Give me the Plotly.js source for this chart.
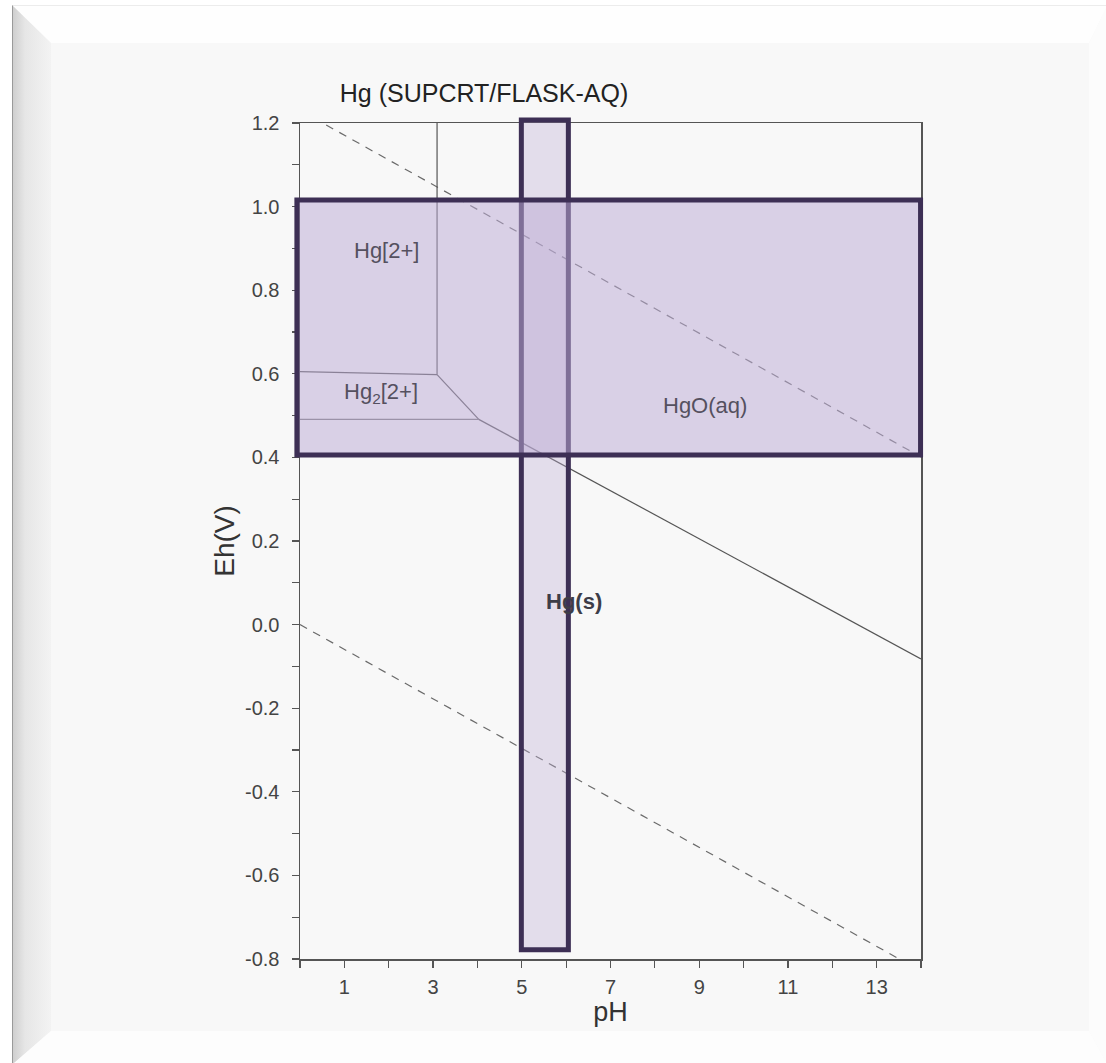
<!DOCTYPE html>
<html>
<head>
<meta charset="utf-8">
<script src="https://cdn.plot.ly/plotly-3.0.1.min.js"></script>
<style>
  html, body { margin: 0; padding: 0; background: #ffffff; width: 1106px; height: 1063px; overflow: hidden; }
  #frame { position: absolute; left: 12px; top: 5px; width: 1094px; height: 1058px; background: #f8f8f8; border-left: 1px solid #9a9a9a; border-top: 1px solid #ececec; }
  .bev { position: absolute; left: 0; top: 0; width: 100%; height: 100%; }
  #bTop { background: #fefefe; clip-path: polygon(0 0, 1094px 0, 1076px 37px, 38px 37px); }
  #bLeft { background: linear-gradient(to right, #cfcfcf 0px, #e6e6e6 12px, #f3f3f3 38px); clip-path: polygon(0 0, 38px 37px, 38px 1025px, 0 1058px); }
  #bRight { background: #fcfcfc; clip-path: polygon(1094px 0, 1094px 1058px, 1076px 1025px, 1076px 37px); }
  #bBot { background: #fdfdfd; clip-path: polygon(0 1058px, 1094px 1058px, 1076px 1025px, 38px 1025px); }
  #chart { position: absolute; left: 0; top: 0; width: 1106px; height: 1063px; }
</style>
</head>
<body>
<div id="frame">
  <div class="bev" id="bTop"></div>
  <div class="bev" id="bLeft"></div>
  <div class="bev" id="bRight"></div>
  <div class="bev" id="bBot"></div>
</div>
<div id="chart"></div>
<script>
// Axis ranges
var phRange = [0, 14];
var ehRange = [-0.8, 1.2];

// Tick labels
var xTickVals = [1, 3, 5, 7, 9, 11, 13];
var xTickText = ["1", "3", "5", "7", "9", "11", "13"];
var yTickVals = [-0.8, -0.6, -0.4, -0.2, 0.0, 0.2, 0.4, 0.6, 0.8, 1.0, 1.2];
var yTickText = ["-0.8", "-0.6", "-0.4", "-0.2", "0.0", "0.2", "0.4", "0.6", "0.8", "1.0", "1.2"];

// Water stability limits (dashed)
var waterUpperPH = [0, 14];
var waterUpperEh = [1.23, 0.401];
var waterLowerPH = [0, 14];
var waterLowerEh = [0.0, -0.829];

// Field boundaries (solid)
var hg2_hg22_PH = [0, 3.09];
var hg2_hg22_Eh = [0.605, 0.598];
var hg2_hgo_PH = [3.09, 3.09];
var hg2_hgo_Eh = [0.598, 1.2];
var hg22_hgo_PH = [3.09, 4.03];
var hg22_hgo_Eh = [0.598, 0.491];
var hg22_hg_PH = [0, 4.03];
var hg22_hg_Eh = [0.491, 0.491];
var hgo_hg_PH = [4.03, 14];
var hgo_hg_Eh = [0.491, -0.082];

// Field labels
var labelText = ["Hg[2+]", "Hg<sub>2</sub>[2+]", "HgO(aq)", "<b>Hg(s)</b>"];
var labelPH = [1.96, 1.83, 9.13, 6.18];
var labelEh = [0.896, 0.555, 0.525, 0.055];

// Highlight boxes (pH / Eh extents)
var hBoxPH = [-0.07, 13.99];
var hBoxEh = [0.406, 1.016];
var vBoxPH = [4.99, 6.05];
var vBoxEh = [-0.778, 1.207];

function px(v) { return (v - phRange[0]) / (phRange[1] - phRange[0]); }
function py(v) { return (v - ehRange[0]) / (ehRange[1] - ehRange[0]); }

var solid = { color: '#555555', width: 1.2 };
var dashed = { color: '#6a6a6a', width: 1.2, dash: '8px,7px' };

function tr(x, y, line) {
  return { x: x, y: y, type: 'scatter', mode: 'lines', line: line, hoverinfo: 'skip', showlegend: false };
}

var data = [
  tr(waterUpperPH, waterUpperEh, dashed),
  tr(waterLowerPH, waterLowerEh, dashed),
  tr(hg2_hg22_PH, hg2_hg22_Eh, solid),
  tr(hg2_hgo_PH, hg2_hgo_Eh, solid),
  tr(hg22_hgo_PH, hg22_hgo_Eh, solid),
  tr(hg22_hg_PH, hg22_hg_Eh, { color: '#777777', width: 1.1 }),
  tr(hgo_hg_PH, hgo_hg_Eh, solid)
];

var annotations = labelText.map(function (t, i) {
  return {
    x: labelPH[i], y: labelEh[i], xref: 'x', yref: 'y', text: t, showarrow: false,
    font: { family: 'Liberation Sans, Arial, sans-serif', size: 22, color: i === 3 ? '#3d3d48' : '#55505f' }
  };
});

var shapes = [
  {
    type: 'rect', xref: 'paper', yref: 'paper', layer: 'above',
    x0: px(vBoxPH[0]), x1: px(vBoxPH[1]), y0: py(vBoxEh[0]), y1: py(vBoxEh[1]),
    fillcolor: 'rgba(190,172,212,0.35)', line: { color: '#3d2f55', width: 5 }
  },
  {
    type: 'rect', xref: 'paper', yref: 'paper', layer: 'above',
    x0: px(hBoxPH[0]), x1: px(hBoxPH[1]), y0: py(hBoxEh[0]), y1: py(hBoxEh[1]),
    fillcolor: 'rgba(188,170,212,0.52)', line: { color: '#3d2f55', width: 5 }
  }
];

var layout = {
  width: 1106, height: 1063,
  paper_bgcolor: 'rgba(0,0,0,0)', plot_bgcolor: 'rgba(0,0,0,0)',
  margin: { l: 300, r: 185, t: 123, b: 104 },
  font: { family: 'Liberation Sans, Arial, sans-serif', color: '#444444' },
  title: {
    text: 'Hg (SUPCRT/FLASK-AQ)', xref: 'container', yref: 'container',
    x: 484 / 1106, xanchor: 'center', y: 1 - 93 / 1063, yanchor: 'middle',
    font: { family: 'Liberation Sans, Arial, sans-serif', size: 25, color: '#222222' }
  },
  xaxis: {
    range: phRange, tickvals: xTickVals, ticktext: xTickText,
    ticks: 'outside', ticklen: 7, tickwidth: 1.2, tickcolor: '#555555',
    minor: { tick0: 0, dtick: 1, ticks: 'outside', ticklen: 7, tickwidth: 1.2, tickcolor: '#555555' },
    showline: true, linecolor: '#555555', linewidth: 1.5, mirror: true,
    showgrid: false, zeroline: false,
    tickfont: { size: 20, color: '#444444' }, ticklabelstandoff: 2,
    title: { text: 'pH', font: { size: 27, color: '#333333' }, standoff: 2 }
  },
  yaxis: {
    range: ehRange, tickvals: yTickVals, ticktext: yTickText,
    ticks: 'outside', ticklen: 7, tickwidth: 1.2, tickcolor: '#555555',
    minor: { tick0: -0.8, dtick: 0.1, ticks: 'outside', ticklen: 7, tickwidth: 1.2, tickcolor: '#555555' },
    showline: true, linecolor: '#555555', linewidth: 1.5, mirror: true,
    showgrid: false, zeroline: false,
    tickfont: { size: 20, color: '#444444' }, ticklabelstandoff: 8,
    title: { text: 'Eh(V)', font: { size: 28, color: '#333333' }, standoff: 2 }
  },
  shapes: shapes,
  annotations: annotations
};

Plotly.newPlot('chart', data, layout, { staticPlot: true, displayModeBar: false });
</script>
</body>
</html>
